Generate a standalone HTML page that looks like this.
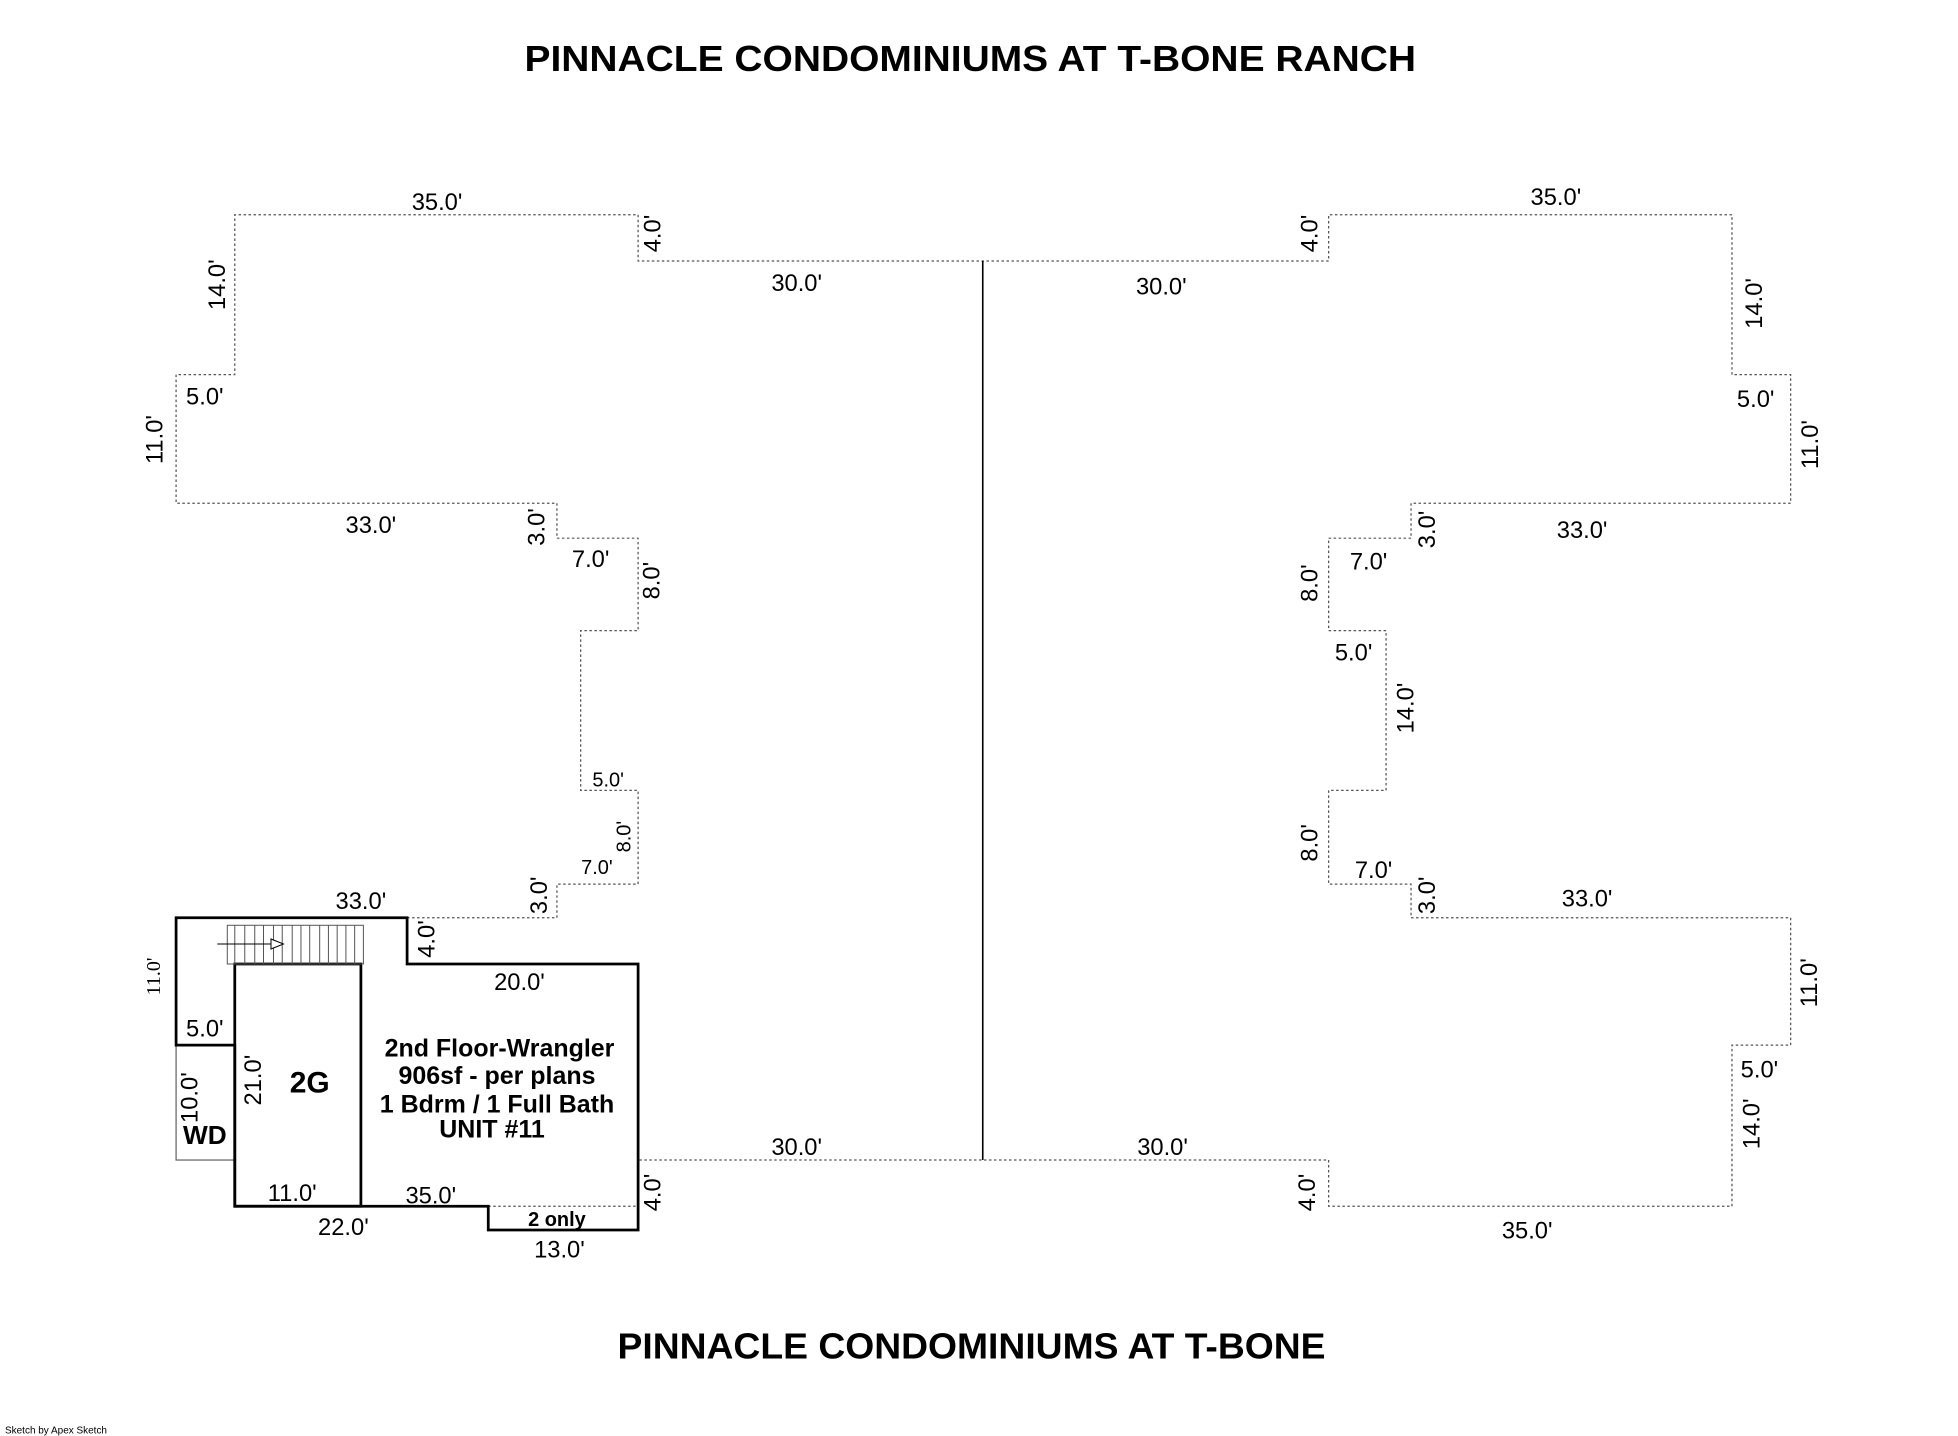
<!DOCTYPE html>
<html><head><meta charset="utf-8"><style>
html,body{margin:0;padding:0;background:#fff;}
svg{display:block;}
text{font-family:"Liberation Sans",Arial,sans-serif;fill:#000;}
</style></head><body>
<svg width="1958" height="1436" viewBox="0 0 1568 1150" xmlns="http://www.w3.org/2000/svg">
<rect width="1568" height="1150" fill="#fff"/>
<text x="777" y="57" font-size="29" font-weight="bold" text-anchor="middle" textLength="714" lengthAdjust="spacingAndGlyphs">PINNACLE CONDOMINIUMS AT T-BONE RANCH</text>
<text x="778" y="1088" font-size="29" font-weight="bold" text-anchor="middle" textLength="567" lengthAdjust="spacingAndGlyphs">PINNACLE CONDOMINIUMS AT T-BONE</text>
<text x="4" y="1148" font-size="8">Sketch by Apex Sketch</text>

<g fill="none" stroke="#555" stroke-width="1" stroke-dasharray="2,2">
<polyline points="326,735 446,735 446,708 511,708 511,633 465,633 465,505 511,505 511,431 446,431 446,403 141,403 141,300 188,300 188,172 511,172 511,209 1064,209 1064,172 1387,172 1387,300 1434,300 1434,403 1130,403 1130,431 1064,431 1064,505 1110,505 1110,633 1064,633 1064,708 1130,708 1130,735 1434,735 1434,837 1387,837 1387,966 1064,966 1064,929 511,929"/>
<line x1="391" y1="966" x2="511" y2="966"/>
</g>
<line x1="787" y1="209" x2="787" y2="929" stroke="#000" stroke-width="1.3"/>

<rect x="141" y="837" width="47" height="92" fill="none" stroke="#666" stroke-width="1"/>
<g fill="none" stroke="#000" stroke-width="2.2">
<polygon points="141,735 326,735 326,772 511,772 511,985 391,985 391,966 188,966 188,837 141,837"/>
<rect x="188" y="772" width="101" height="194"/>
</g>
<g stroke="#555" stroke-width="0.8" fill="none">
<rect x="182" y="741" width="109" height="31"/>
<path d="M188,741V772M196,741V772M204,741V772M211,741V772M219,741V772M226,741V772M234,741V772M241,741V772M248,741V772M256,741V772M263,741V772M270,741V772M277,741V772M284,741V772"/>
<line x1="174" y1="756" x2="222" y2="756" stroke="#000"/>
<polygon points="217,752 227,756 217,760" fill="#fff" stroke="#000"/>
</g>

<g font-size="19">
<text x="350" y="168" text-anchor="middle">35.0'</text>
<text x="638" y="233" text-anchor="middle">30.0'</text>
<text x="930" y="236" text-anchor="middle">30.0'</text>
<text x="1246" y="164" text-anchor="middle">35.0'</text>
<text x="164" y="324" text-anchor="middle">5.0'</text>
<text x="297" y="427" text-anchor="middle">33.0'</text>
<text x="473" y="454" text-anchor="middle">7.0'</text>
<text x="1406" y="326" text-anchor="middle">5.0'</text>
<text x="1267" y="431" text-anchor="middle">33.0'</text>
<text x="1096" y="456" text-anchor="middle">7.0'</text>
<text x="1084" y="529" text-anchor="middle">5.0'</text>
<text x="1100" y="703" text-anchor="middle">7.0'</text>
<text x="1271" y="726" text-anchor="middle">33.0'</text>
<text x="1409" y="863" text-anchor="middle">5.0'</text>
<text x="638" y="925" text-anchor="middle">30.0'</text>
<text x="931" y="925" text-anchor="middle">30.0'</text>
<text x="1223" y="992" text-anchor="middle">35.0'</text>
<text x="289" y="728" text-anchor="middle">33.0'</text>
<text x="416" y="793" text-anchor="middle">20.0'</text>
<text x="164" y="830" text-anchor="middle">5.0'</text>
<text x="234" y="962" text-anchor="middle">11.0'</text>
<text x="345" y="964" text-anchor="middle">35.0'</text>
<text x="275" y="989" text-anchor="middle">22.0'</text>
<text x="448" y="1007" text-anchor="middle">13.0'</text>
</g>
<g font-size="16">
<text x="487" y="630" text-anchor="middle">5.0'</text>
<text x="478" y="700" text-anchor="middle">7.0'</text>
</g>
<g font-size="19">
<text transform="translate(180,228) rotate(-90)" text-anchor="middle">14.0'</text>
<text transform="translate(130,352) rotate(-90)" text-anchor="middle">11.0'</text>
<text transform="translate(529,187) rotate(-90)" text-anchor="middle">4.0'</text>
<text transform="translate(436,422) rotate(-90)" text-anchor="middle">3.0'</text>
<text transform="translate(528,465) rotate(-90)" text-anchor="middle">8.0'</text>
<text transform="translate(438,717) rotate(-90)" text-anchor="middle">3.0'</text>
<text transform="translate(348,752) rotate(-90)" text-anchor="middle">4.0'</text>
<text transform="translate(158,879) rotate(-90)" text-anchor="middle">10.0'</text>
<text transform="translate(209,865) rotate(-90)" text-anchor="middle">21.0'</text>
<text transform="translate(529,955) rotate(-90)" text-anchor="middle">4.0'</text>
<text transform="translate(1055,187) rotate(-90)" text-anchor="middle">4.0'</text>
<text transform="translate(1411,243) rotate(-90)" text-anchor="middle">14.0'</text>
<text transform="translate(1456,356) rotate(-90)" text-anchor="middle">11.0'</text>
<text transform="translate(1149,424) rotate(-90)" text-anchor="middle">3.0'</text>
<text transform="translate(1055,467) rotate(-90)" text-anchor="middle">8.0'</text>
<text transform="translate(1132,567) rotate(-90)" text-anchor="middle">14.0'</text>
<text transform="translate(1055,675) rotate(-90)" text-anchor="middle">8.0'</text>
<text transform="translate(1149,717) rotate(-90)" text-anchor="middle">3.0'</text>
<text transform="translate(1455,787) rotate(-90)" text-anchor="middle">11.0'</text>
<text transform="translate(1409,900) rotate(-90)" text-anchor="middle">14.0'</text>
<text transform="translate(1053,955) rotate(-90)" text-anchor="middle">4.0'</text>
</g>
<text transform="translate(505,670) rotate(-90)" font-size="16" text-anchor="middle">8.0'</text>
<text transform="translate(128,782) rotate(-90)" font-size="16" text-anchor="middle" style="font-family:'Liberation Serif',serif">11.0'</text>

<g font-weight="bold" text-anchor="middle">
<text x="248" y="875" font-size="24">2G</text>
<text x="164" y="916" font-size="21">WD</text>
<text x="400" y="846" font-size="20">2nd Floor-Wrangler</text>
<text x="398" y="868" font-size="20">906sf - per plans</text>
<text x="398" y="891" font-size="20">1 Bdrm / 1 Full Bath</text>
<text x="394" y="911" font-size="20">UNIT #11</text>
<text x="446" y="982" font-size="16">2 only</text>
</g>
</svg>
</body></html>
